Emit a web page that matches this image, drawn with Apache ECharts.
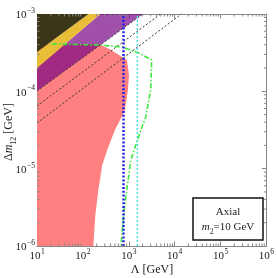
<!DOCTYPE html>
<html><head><meta charset="utf-8">
<script src="https://cdn.jsdelivr.net/npm/echarts@6/dist/echarts.min.js"></script>
<style>html,body{margin:0;padding:0;background:#fff}#c{width:277px;height:278px}</style>
</head><body><div id="c"></div>
<script>
// axis exponents (log10)
const xTickExps = [1, 2, 3, 4, 5, 6];
const yTickExps = [-6, -5, -4, -3];
// regions: [Lambda (GeV), Delta m12 (GeV)]
const darkRegion = [[10, 1e-3], [132, 1e-3], [10, 3.23e-4]];
const yellowRegion = [[132, 1e-3], [239, 1e-3], [10, 2.0e-4], [10, 3.23e-4]];
const purpleRegion = [[239, 1e-3], [2023, 1e-3], [10, 1.01e-4], [10, 2.0e-4]];
const pinkRegion = [[10, 4.09e-4], [228, 4.09e-4], [413, 3.42e-4], [914, 2.54e-4], [1010, 1.63e-4],
  [961, 1.04e-4], [810, 5.5e-5], [500, 3.16e-5], [339, 1.74e-5], [264, 1.11e-5], [217, 5.3e-6],
  [187, 2.52e-6], [169, 1e-6], [10, 1e-6]];
const dashedLine1 = [[10, 1.01e-4], [2023, 1e-3]];
const dashedLine2 = [[10, 6.46e-5], [4943, 1e-3]];
const dashedLine3 = [[10, 3.89e-5], [14030, 1e-3]];
const greenCurve = [[21, 4.09e-4], [228, 3.97e-4], [713, 3.74e-4], [1660, 3.13e-4], [3162, 2.54e-4],
  [3008, 1.04e-4], [2348, 4.66e-5], [1834, 3.16e-5], [1114, 1.29e-5], [788, 2.92e-6], [679, 1e-6]];
const blueLine = [[769, 1e-6], [769, 1e-3]];
const cyanLine = [[1538, 1e-6], [1538, 1e-3]];

const L = p => [Math.log10(p[0]), Math.log10(p[1])];

function polySeries(pts, color, z) {
  const d = pts.map(L);
  return {
    type: 'custom', silent: true, z: z, clip: true,
    data: d,
    renderItem: function (params, api) {
      if (params.dataIndex !== 0) return null;
      return { type: 'polygon', shape: { points: d.map(q => api.coord(q)) }, style: { fill: color } };
    }
  };
}
function lineSeries(pts, color, width, dash, z) {
  return {
    type: 'line', silent: true, z: z, symbol: 'none', data: pts.map(L), clip: true,
    lineStyle: { color: color, width: width, type: dash }
  };
}
// minor tick positions (log10 of 2..9 times each decade)
const minorX = [], minorY = [];
xTickExps.slice(0, -1).forEach(e => { for (let k = 2; k <= 9; k++) minorX.push(e + Math.log10(k)); });
yTickExps.slice(0, -1).forEach(e => { for (let k = 2; k <= 9; k++) minorY.push(e + Math.log10(k)); });

const minorSeries = {
  type: 'custom', silent: true, z: 10, clip: false,
  data: [0],
  renderItem: function (params, api) {
    const ch = [];
    const st = { stroke: '#888', lineWidth: 1 };
    const x0 = xTickExps[0], x1 = xTickExps[xTickExps.length - 1];
    const y0 = yTickExps[0], y1 = yTickExps[yTickExps.length - 1];
    minorX.forEach(v => {
      const b = api.coord([v, y0]), t = api.coord([v, y1]);
      ch.push({ type: 'line', shape: { x1: b[0], y1: b[1], x2: b[0], y2: b[1] - 2.5 }, style: st });
      ch.push({ type: 'line', shape: { x1: t[0], y1: t[1], x2: t[0], y2: t[1] + 2.5 }, style: st });
    });
    minorY.forEach(v => {
      const l = api.coord([x0, v]), r = api.coord([x1, v]);
      ch.push({ type: 'line', shape: { x1: l[0], y1: l[1], x2: l[0] + 2.5, y2: l[1] }, style: st });
      ch.push({ type: 'line', shape: { x1: r[0], y1: r[1], x2: r[0] - 2.5, y2: r[1] }, style: st });
    });
    return { type: 'group', children: ch };
  }
};

const serif = 'Liberation Serif';
const rich = {
  b: { fontFamily: serif, fontSize: 11, color: '#222', lineHeight: 14, verticalAlign: 'bottom' },
  s: { fontFamily: serif, fontSize: 7.5, color: '#222', lineHeight: 14, verticalAlign: 'top', padding: [0, 0, 0, 0.5] }
};
const fmt = v => '{b|10}{s|' + (v < 0 ? '\u2212' + (-v) : v) + '}';
const axisCommon = (pos, show) => ({
  type: 'value', position: pos,
  axisLine: { show: true, lineStyle: { color: '#888', width: 1 } },
  axisTick: { show: true, inside: true, length: 4.5, lineStyle: { color: '#888' } },
  splitLine: { show: false },
  axisLabel: show ? { formatter: fmt, rich: rich, margin: 2 } : { show: false }
});

const chart = echarts.init(document.getElementById('c'), null, { renderer: 'canvas' });
chart.setOption({
  animation: false,
  grid: { left: 37, top: 14, right: 8, bottom: 32 },
  xAxis: [
    Object.assign(axisCommon('bottom', true), { min: 1, max: 6, interval: 1 }),
    Object.assign(axisCommon('top', false), { min: 1, max: 6, interval: 1 })
  ],
  yAxis: [
    Object.assign(axisCommon('left', true), { min: -6, max: -3, interval: 1 }),
    Object.assign(axisCommon('right', false), { min: -6, max: -3, interval: 1 })
  ],
  series: [
    polySeries(pinkRegion, '#ff8080', 1),
    polySeries(purpleRegion, 'rgba(119,5,131,0.7)', 2),
    polySeries(yellowRegion, '#e8bd38', 3),
    polySeries(darkRegion, '#3c3619', 4),
    lineSeries(dashedLine1, '#333', 1, [2, 2], 5),
    lineSeries(dashedLine2, '#333', 1, [2, 2], 5),
    lineSeries(dashedLine3, '#333', 1, [2, 2], 5),
    lineSeries(greenCurve, '#3ee83e', 1.6, [5, 2, 1.5, 2], 6),
    lineSeries(cyanLine, '#40e0e8', 1.4, [2, 2], 7),
    lineSeries(blueLine, '#1c1ce8', 2.4, [2, 1.8], 8),
    minorSeries
  ],
  graphic: [
    { type: 'rect', shape: { x: 193, y: 198, width: 70, height: 42 }, style: { fill: '#fff', stroke: '#111', lineWidth: 1.5 }, z: 100 },
    { type: 'text', x: 228, y: 212, z: 101, style: { text: 'Axial', fontFamily: serif, fontSize: 11, fill: '#222', align: 'center', verticalAlign: 'middle' } },
    { type: 'text', x: 228, y: 229, z: 101, style: {
      text: '{i|m}{sub|2}{n|=10 GeV}', align: 'center', verticalAlign: 'middle',
      rich: {
        i: { fontFamily: serif, fontStyle: 'italic', fontSize: 11, fill: '#222', lineHeight: 14, verticalAlign: 'top' },
        sub: { fontFamily: serif, fontSize: 7.5, fill: '#222', lineHeight: 14, verticalAlign: 'bottom' },
        n: { fontFamily: serif, fontSize: 11, fill: '#222', lineHeight: 14, verticalAlign: 'top' }
      } } },
    { type: 'text', x: 152, y: 270, z: 101, style: { text: '\u039b [GeV]', fontFamily: serif, fontSize: 12, fill: '#222', align: 'center', verticalAlign: 'middle' } },
    { type: 'text', x: 10, y: 132, z: 101, rotation: Math.PI / 2, style: {
      text: '{n|\u0394}{i|m}{sub|12}{n| [GeV]}', align: 'center', verticalAlign: 'middle',
      rich: {
        i: { fontFamily: serif, fontStyle: 'italic', fontSize: 12, fill: '#222', lineHeight: 15, verticalAlign: 'top' },
        sub: { fontFamily: serif, fontSize: 8, fill: '#222', lineHeight: 15, verticalAlign: 'bottom' },
        n: { fontFamily: serif, fontSize: 12, fill: '#222', lineHeight: 15, verticalAlign: 'top' }
      } } }
  ]
});
</script></body></html>
